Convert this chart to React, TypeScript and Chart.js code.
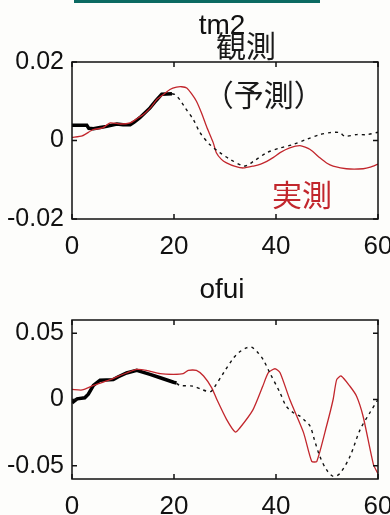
import React, { useEffect, useRef } from "react";
import { Chart, registerables } from "chart.js";

Chart.register(...registerables);

// ---- tm2 panel ----
const tm2ObsT = [0, 2.9, 3.3, 4.2, 5.5, 6.8, 8.8, 10, 11.4, 12.2, 13.3, 15.3, 16.5, 17.6, 19.6];
const tm2ObsV = [0.0039, 0.0039, 0.0031, 0.003, 0.0033, 0.0036, 0.0042, 0.004, 0.004, 0.0047, 0.0058, 0.0083, 0.0102, 0.0118, 0.0119];

const tm2PredT = [19.6, 20.2, 21.2, 22.2, 23.8, 25.1, 27, 29, 31, 33.6, 34.5, 35.6, 38.2, 40.8, 43.4, 46, 48.6, 50.6, 52.5, 53.5, 55.8, 57.8, 60];
const tm2PredV = [0.0119, 0.0117, 0.0103, 0.0083, 0.0053, 0.002, -0.001, -0.0031, -0.0048, -0.0065, -0.0062, -0.0053, -0.0031, -0.0019, -0.001, 0.0003, 0.0015, 0.002, 0.002, 0.0011, 0.0015, 0.0015, 0.0021];

const tm2RealT = [0, 2, 4.2, 6, 7.5, 9.5, 11.4, 13, 14, 15.5, 16.6, 18, 19.2, 20.5, 21.5, 22.5, 23.5, 24.4, 25.4, 26.4, 27.7, 28.3, 29.3, 30.3, 32, 33.6, 35.6, 37, 38.2, 39.5, 40.8, 42.7, 44.7, 46.7, 48.6, 50, 51.2, 53.8, 57.1, 58.5, 60];
const tm2RealV = [0.0008, 0.0012, 0.0028, 0.0032, 0.0045, 0.0042, 0.0045, 0.0058, 0.0066, 0.0085, 0.0104, 0.0118, 0.013, 0.0136, 0.0137, 0.0134, 0.0118, 0.01, 0.007, 0.0035, -0.0006, -0.0031, -0.0048, -0.0057, -0.0066, -0.007, -0.0065, -0.006, -0.0053, -0.0043, -0.0031, -0.0019, -0.0013, -0.0023, -0.0044, -0.0058, -0.0065, -0.0072, -0.0072, -0.0068, -0.006];

const tm2Ticks = [-0.02, 0, 0.02];

// ---- ofui panel ----
const ofuiObsT = [0, 1, 2.5, 3.2, 4.2, 5.5, 8.1, 9, 10.7, 12.7, 14, 15.3, 17.3, 19.9, 20.5];
const ofuiObsV = [-0.0025, 0.0005, 0.0013, 0.004, 0.0106, 0.0146, 0.015, 0.017, 0.02, 0.022, 0.0205, 0.019, 0.0164, 0.013, 0.0125];

const ofuiPredT = [20.5, 21.2, 23.8, 25.5, 26.4, 27.2, 27.7, 29.7, 31.6, 32.9, 34.2, 35.2, 36.3, 37.5, 38.8, 40.8, 42, 43.4, 44.7, 45.7, 46.7, 47.5, 48.6, 49.9, 51.2, 52.5, 54.5, 56.5, 58.4, 60];
const ofuiPredV = [0.0122, 0.0106, 0.01, 0.0075, 0.0063, 0.006, 0.008, 0.02, 0.031, 0.036, 0.039, 0.0395, 0.036, 0.03, 0.02, 0.005, -0.005, -0.01, -0.0126, -0.016, -0.0202, -0.03, -0.043, -0.053, -0.058, -0.056, -0.043, -0.0227, -0.01, 0.0];

const ofuiRealT = [0, 2, 4.2, 6, 7.5, 9, 10.7, 12.7, 14.6, 17.3, 19.9, 21.8, 22.8, 24.4, 25.8, 27.4, 28.4, 30.3, 32, 32.9, 35.5, 37.4, 38.5, 39.8, 40.8, 42.7, 45.4, 47, 48, 49.9, 51.2, 51.9, 52.8, 54.5, 55.8, 57.1, 59.1, 60];
const ofuiRealV = [0.0076, 0.0072, 0.0106, 0.013, 0.015, 0.0175, 0.02, 0.0227, 0.022, 0.0195, 0.019, 0.0195, 0.022, 0.022, 0.0177, 0.0088, 0, -0.015, -0.0245, -0.0215, -0.0076, 0.01, 0.0202, 0.0232, 0.0202, 0, -0.025, -0.0467, -0.0467, -0.0202, 0, 0.015, 0.0177, 0.01, 0.0025, -0.013, -0.049, -0.056];

const ofuiTicks = [-0.05, 0, 0.05];

const xTicks = [0, 20, 40, 60];

const RED = "#c2262c";
const LABEL_FONT = "'Liberation Sans', Arial, sans-serif";
const CJK_FONT = "'Noto Sans CJK JP', sans-serif";

type Note = { text: string; x: number; y: number; color: string };

const toPts = (t: number[], v: number[]) => t.map((x, i) => ({ x, y: v[i] }));

// frame around the plot area with inward-pointing tick marks
const framePlugin = {
  id: "frame",
  afterDraw(chart: any) {
    const { ctx, chartArea: a, scales } = chart;
    const len = 5;
    ctx.save();
    ctx.strokeStyle = "#111";
    ctx.lineWidth = 1.5;
    ctx.strokeRect(a.left, a.top, a.right - a.left, a.bottom - a.top);
    ctx.beginPath();
    scales.x.ticks.forEach((tk: any) => {
      const px = scales.x.getPixelForValue(tk.value);
      ctx.moveTo(px, a.bottom);
      ctx.lineTo(px, a.bottom - len);
      ctx.moveTo(px, a.top);
      ctx.lineTo(px, a.top + len);
    });
    scales.y.ticks.forEach((tk: any) => {
      const py = scales.y.getPixelForValue(tk.value);
      ctx.moveTo(a.left, py);
      ctx.lineTo(a.left + len, py);
      ctx.moveTo(a.right, py);
      ctx.lineTo(a.right - len, py);
    });
    ctx.stroke();
    ctx.restore();
  },
};

// panel heading above the plot area, plus text notes anchored to data coordinates
const textPlugin = {
  id: "panelText",
  afterDraw(chart: any, _args: any, opts: any) {
    const { ctx, scales, chartArea: a } = chart;
    ctx.save();
    ctx.textAlign = "center";
    ctx.textBaseline = "middle";
    if (opts.title) {
      ctx.font = `28px ${LABEL_FONT}`;
      ctx.fillStyle = "#111";
      ctx.fillText(opts.title, (a.left + a.right) / 2 - 3, a.top - opts.titleGap);
    }
    const notes: Note[] = opts.items || [];
    ctx.font = `30px ${CJK_FONT}`;
    notes.forEach((n) => {
      ctx.fillStyle = n.color;
      ctx.fillText(n.text, scales.x.getPixelForValue(n.x), scales.y.getPixelForValue(n.y));
    });
    ctx.restore();
  },
};

type PanelProps = {
  title: string;
  obsT: number[];
  obsV: number[];
  predT: number[];
  predV: number[];
  realT: number[];
  realV: number[];
  yTicks: number[];
  yMin: number;
  yMax: number;
  top: number;
  titleGap: number;
  height: number;
  notes: Note[];
};

function Panel(p: PanelProps) {
  const ref = useRef<HTMLCanvasElement>(null);
  useEffect(() => {
    if (!ref.current) return;
    const chart = new Chart(ref.current, {
      type: "line",
      data: {
        datasets: [
          {
            data: toPts(p.predT, p.predV),
            borderColor: "#111",
            borderWidth: 1.4,
            borderDash: [3, 4],
            pointRadius: 0,
            tension: 0.3,
          },
          {
            data: toPts(p.realT, p.realV),
            borderColor: RED,
            borderWidth: 1.3,
            pointRadius: 0,
            tension: 0.2,
          },
          {
            data: toPts(p.obsT, p.obsV),
            borderColor: "#000",
            borderWidth: 3.5,
            pointRadius: 0,
            tension: 0,
          },
        ],
      },
      options: {
        animation: false,
        responsive: false,
        events: [],
        layout: { padding: { left: 0, right: 12, top: p.top, bottom: 0 } },
        plugins: {
          legend: { display: false },
          tooltip: { enabled: false },
          title: { display: false },
          panelText: { title: p.title, titleGap: p.titleGap, items: p.notes },
        } as any,
        scales: {
          x: {
            type: "linear",
            min: 0,
            max: 60,
            grid: { display: false, drawTicks: false },
            border: { display: false },
            afterBuildTicks: (s: any) => {
              s.ticks = xTicks.map((v) => ({ value: v }));
            },
            afterFit: (s: any) => {
              s.height = p.height - 219;
              s.paddingLeft = 0;
              s.paddingRight = 0;
            },
            ticks: {
              color: "#111",
              padding: 12,
              maxRotation: 0,
              autoSkip: false,
              font: { family: LABEL_FONT, size: 26 },
            },
          },
          y: {
            type: "linear",
            min: p.yMin,
            max: p.yMax,
            grid: { display: false, drawTicks: false },
            border: { display: false },
            afterBuildTicks: (s: any) => {
              s.ticks = p.yTicks.map((v) => ({ value: v }));
            },
            afterFit: (s: any) => {
              s.width = 72;
              s.paddingTop = 0;
              s.paddingBottom = 0;
            },
            ticks: {
              color: "#111",
              padding: 8,
              autoSkip: false,
              font: { family: LABEL_FONT, size: 25 },
              callback: (v: any) => {
                const n = Number(Number(v).toFixed(3));
                return n === 0 ? "0" : String(n);
              },
            },
          },
        },
      },
      plugins: [framePlugin, textPlugin],
    });
    return () => chart.destroy();
  }, []);
  return <canvas ref={ref} width={390} height={p.height} style={{ display: "block", width: 390, height: p.height }} />;
}

export default function App() {
  return (
    <div
      style={{
        position: "fixed",
        left: 0,
        top: 0,
        width: 390,
        height: 515,
        background: "#fdfdfb",
        overflow: "hidden",
      }}
    >
      <div
        style={{
          position: "absolute",
          left: 74,
          top: 0,
          width: 246,
          height: 3,
          background: "#0b6a62",
        }}
      />
      <Panel
        title="tm2"
        obsT={tm2ObsT}
        obsV={tm2ObsV}
        predT={tm2PredT}
        predV={tm2PredV}
        realT={tm2RealT}
        realV={tm2RealV}
        yTicks={tm2Ticks}
        yMin={-0.02}
        yMax={0.02}
        top={62}
        titleGap={36}
        height={260}
        notes={[
          { text: "観測", x: 34.1, y: 0.0241, color: "#1a1a1a" },
          { text: "（予測）", x: 37.6, y: 0.0117, color: "#1a1a1a" },
          { text: "実測", x: 45.1, y: -0.0138, color: RED },
        ]}
      />
      <Panel
        title="ofui"
        obsT={ofuiObsT}
        obsV={ofuiObsV}
        predT={ofuiPredT}
        predV={ofuiPredV}
        realT={ofuiRealT}
        realV={ofuiRealV}
        yTicks={ofuiTicks}
        yMin={-0.06}
        yMax={0.06}
        top={60}
        titleGap={30}
        height={255}
        notes={[]}
      />
    </div>
  );
}
